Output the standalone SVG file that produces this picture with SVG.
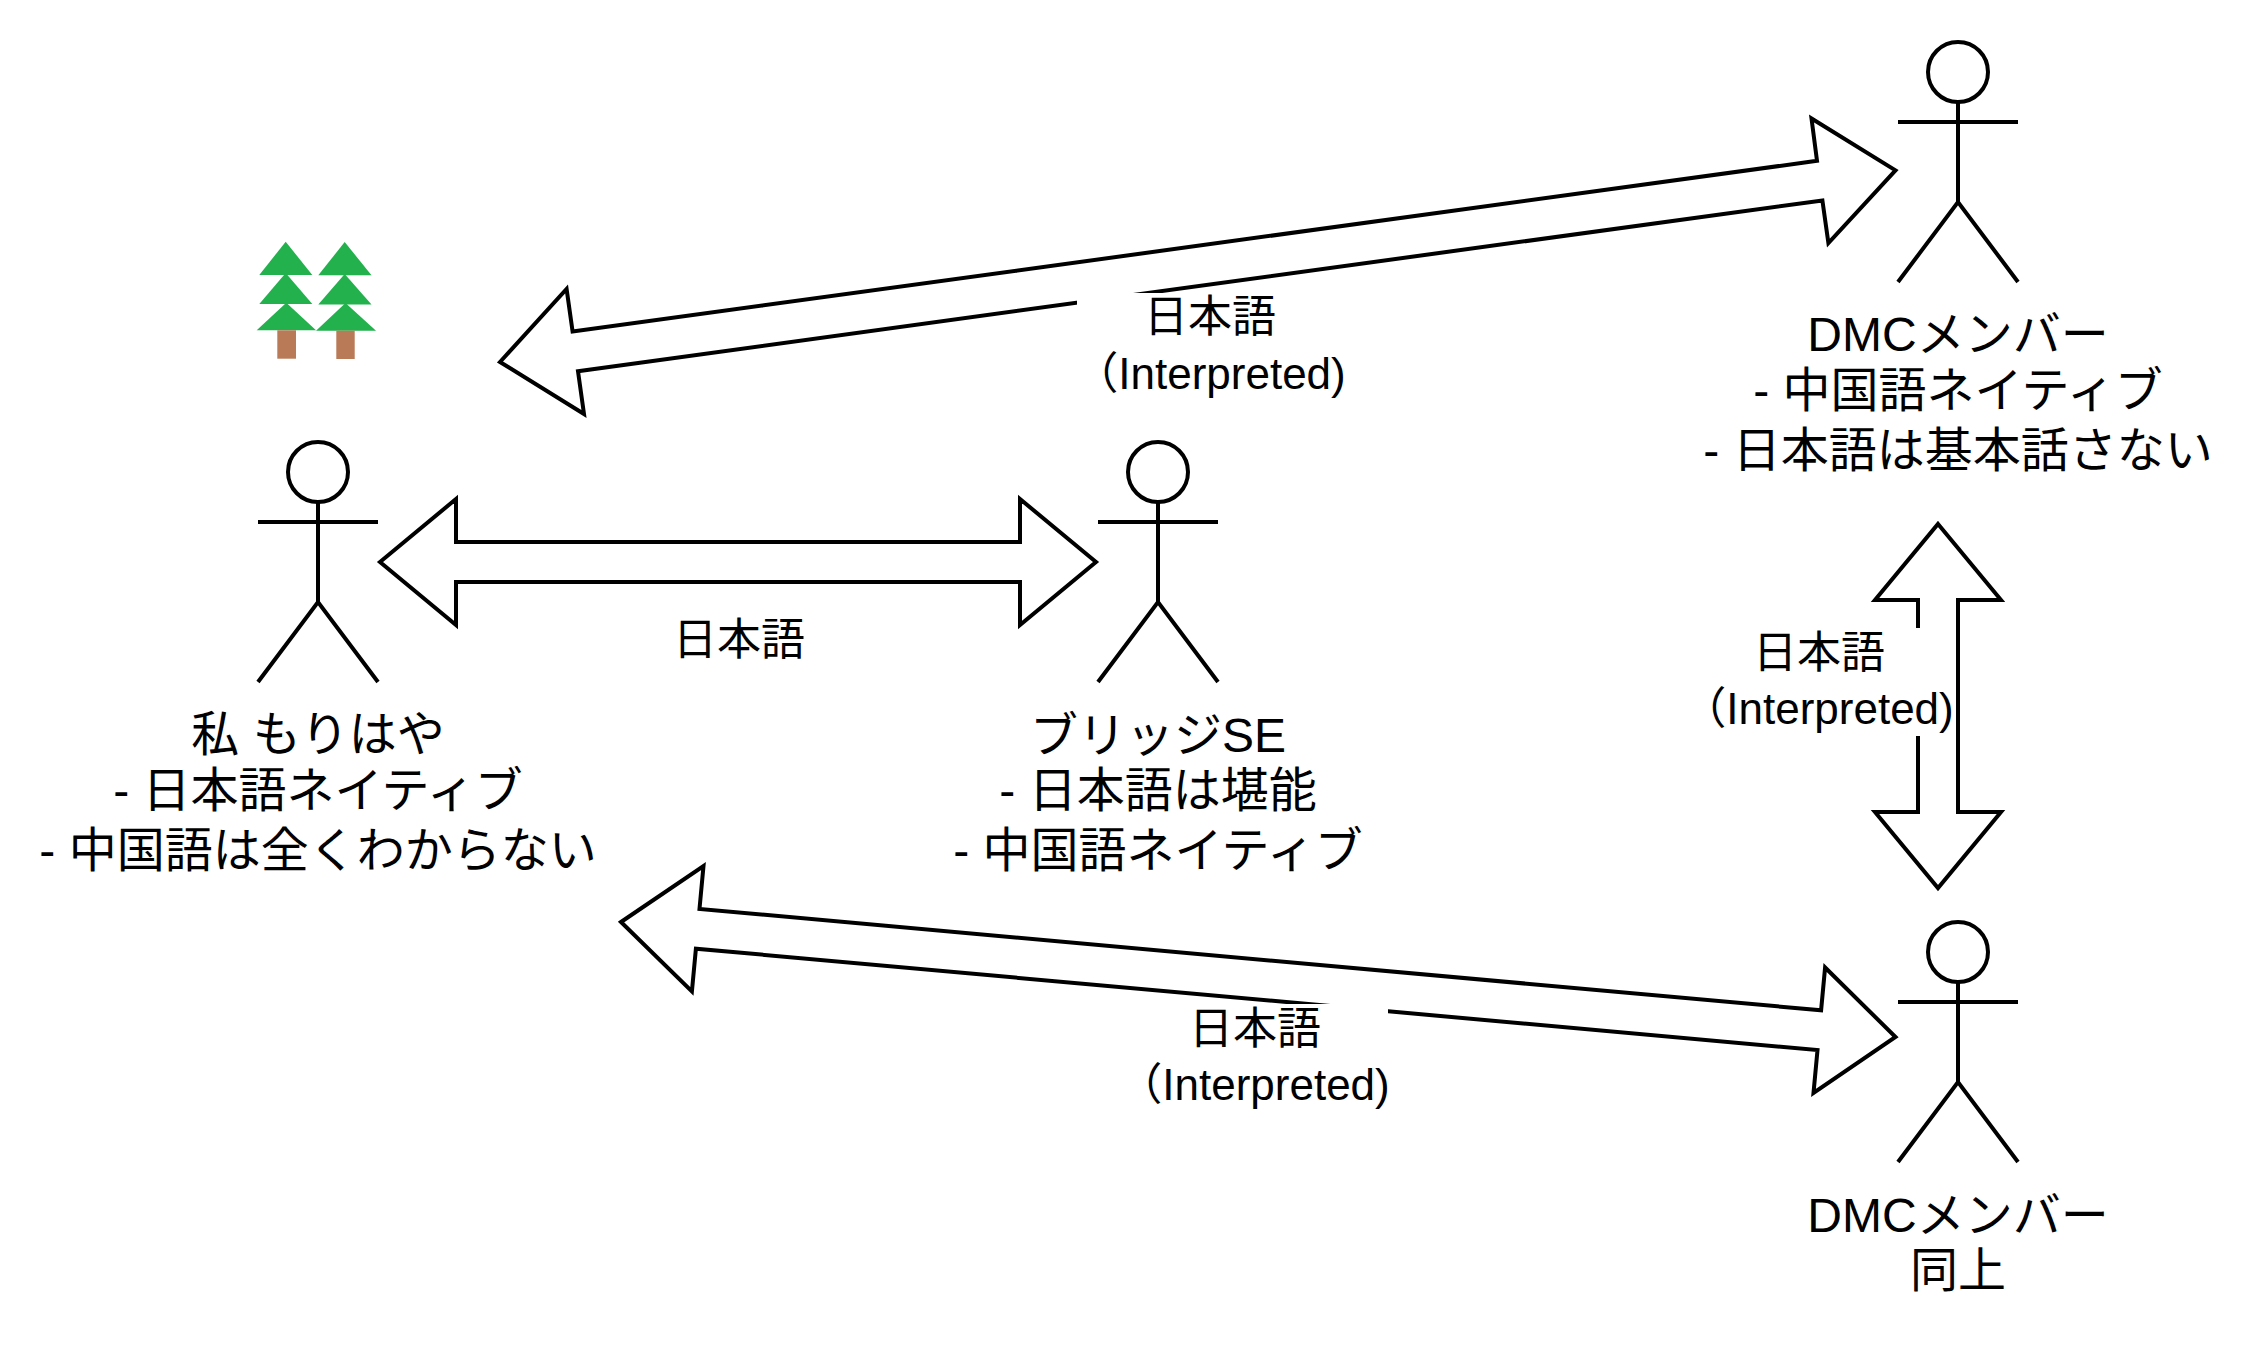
<svg xmlns="http://www.w3.org/2000/svg" width="2252" height="1348" viewBox="0 0 2252 1348">
<style>
text{font-family:"Liberation Sans","Noto Sans CJK JP",sans-serif;fill:#000;text-anchor:middle}
.n{font-size:48px}
.e{font-size:44px}
.a{fill:#fff;stroke:#000;stroke-width:4;stroke-miterlimit:10}
.s{fill:none;stroke:#000;stroke-width:4}
.g{fill:#22b14c}
.b{fill:#b97a57}
</style>
<defs>
<g id="actor">
<circle class="s" cx="60" cy="30" r="30"/>
<path class="s" d="M60 60V160M0 80H120M0 240L60 160L120 240"/>
</g>
</defs>
<rect width="2252" height="1348" fill="#fff"/>
<g id="connectors">
<polygon class="a" points="500,362 566.6,289 572.6,331.6 1817,160.8 1811.5,118.5 1895.5,170.4 1828.4,243 1822.4,200.4 578,371.2 584,414"/>
<polygon class="a" points="380,562 456,499 456,542 1020,542 1020,499 1096,562 1020,625 1020,582 456,582 456,625"/>
<polygon class="a" points="1938,524 2001,600 1958,600 1958,812 2001,812 1938,888 1875,812 1918,812 1918,600 1875,600"/>
<polygon class="a" points="621,922 703.5,866 699.5,908.9 1821.1,1010.3 1825.1,967.5 1895.5,1037 1813.5,1093 1817.5,1050.1 695.9,948.7 691.9,991.5"/>
<g id="label-top">
<rect x="1077" y="293" width="272" height="110" fill="#fff"/>
<text class="e" x="1210" y="332">日本語</text>
<text class="e" x="1210" y="389">（Interpreted)</text>
</g>
<g id="label-middle">
<text class="e" x="739" y="655">日本語</text>
</g>
<g id="label-right">
<rect x="1684" y="628" width="270" height="108" fill="#fff"/>
<text class="e" x="1819" y="668">日本語</text>
<text class="e" x="1818" y="724">（Interpreted)</text>
</g>
<g id="label-bottom">
<rect x="1119" y="1004" width="269" height="110" fill="#fff"/>
<text class="e" x="1255" y="1044">日本語</text>
<text class="e" x="1254" y="1100">（Interpreted)</text>
</g>
</g>
<g id="trees">
<polygon class="g" points="285.7,241.7 312.3,275 259.3,275"/>
<polygon class="g" points="285.7,273 312.3,304 259.3,304"/>
<polygon class="g" points="286.3,302.7 316,330.3 256.7,330.3"/>
<rect class="b" x="277.3" y="330.3" width="18.7" height="28.4"/>
<polygon class="g" points="344.7,242 371.5,275.3 318.3,275.3"/>
<polygon class="g" points="344.7,274 371.5,304.5 318.3,304.5"/>
<polygon class="g" points="345.5,303 376,330.7 316,330.7"/>
<rect class="b" x="336.3" y="330.7" width="18.4" height="28.3"/>
</g>
<g id="actor-me">
<use href="#actor" x="258" y="442"/>
<text class="n" x="318" y="751">私 もりはや</text>
<text class="n" x="318" y="807">- 日本語ネイティブ</text>
<text class="n" x="318" y="867">- 中国語は全くわからない</text>
</g>
<g id="actor-bridge">
<use href="#actor" x="1098" y="442"/>
<text class="n" x="1158" y="752">ブリッジSE</text>
<text class="n" x="1158" y="807">- 日本語は堪能</text>
<text class="n" x="1158" y="867">- 中国語ネイティブ</text>
</g>
<g id="actor-dmc-1">
<use href="#actor" x="1898" y="42"/>
<text class="n" x="1958" y="351">DMCメンバー</text>
<text class="n" x="1958" y="407">- 中国語ネイティブ</text>
<text class="n" x="1958" y="467">- 日本語は基本話さない</text>
</g>
<g id="actor-dmc-2">
<use href="#actor" x="1898" y="922"/>
<text class="n" x="1958" y="1232">DMCメンバー</text>
<text class="n" x="1958" y="1287">同上</text>
</g>
</svg>
